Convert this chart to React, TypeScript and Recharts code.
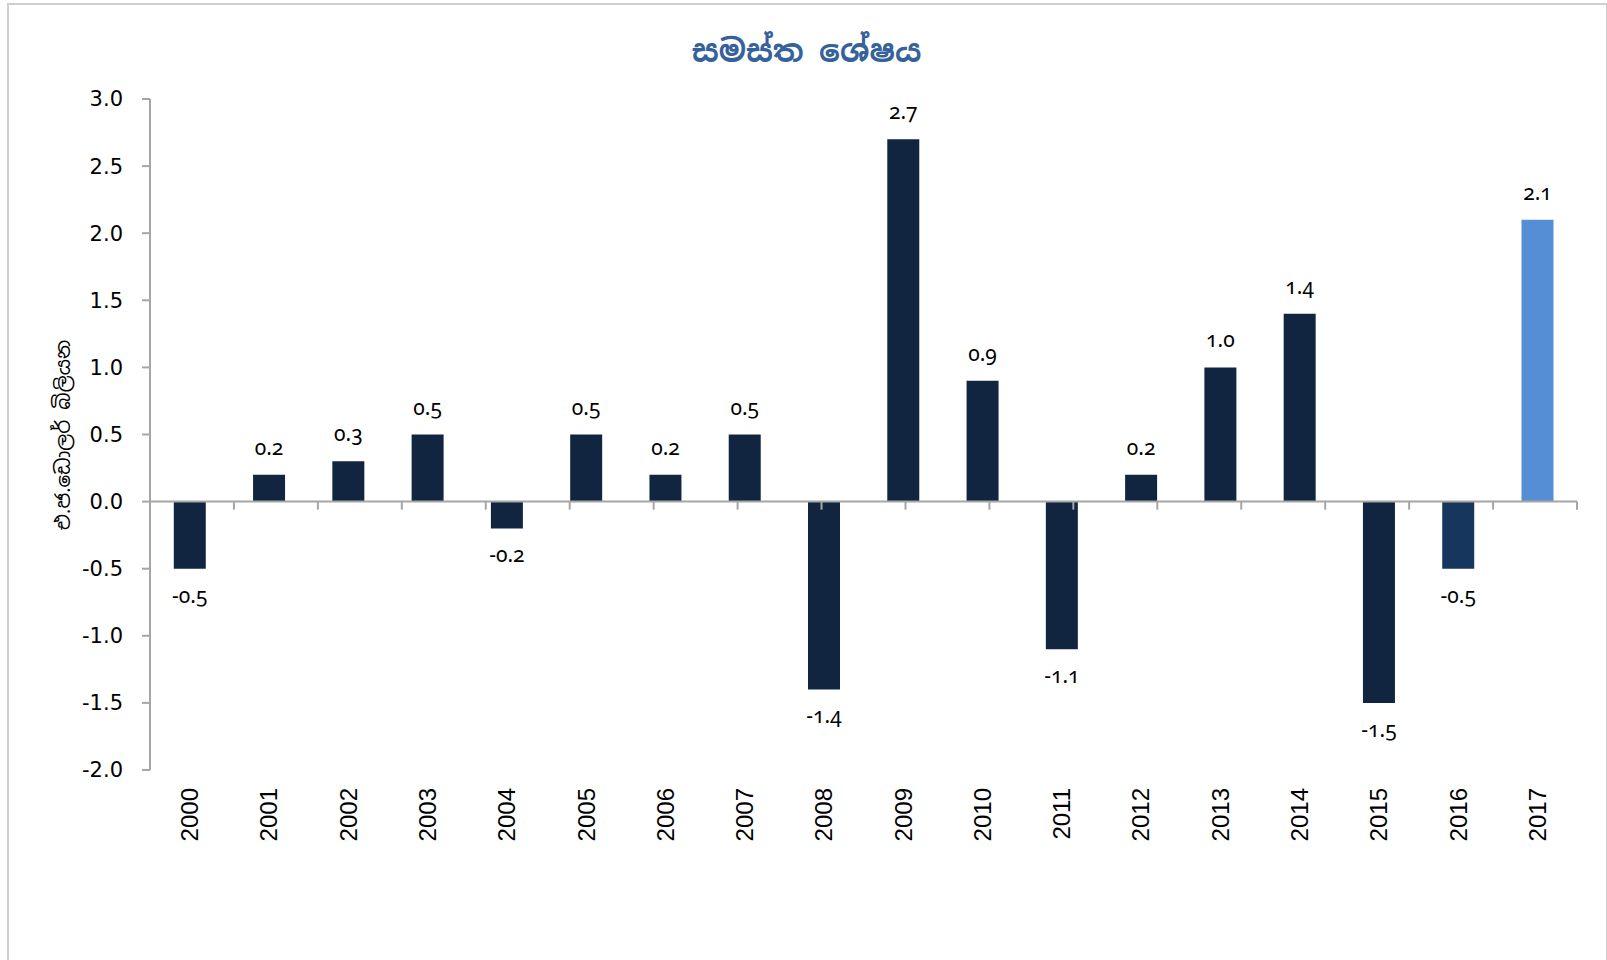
import React from "react";
import {
  BarChart,
  Bar,
  XAxis,
  YAxis,
  Cell,
  LabelList,
  ReferenceLine,
} from "recharts";

const years = [
  "2000", "2001", "2002", "2003", "2004", "2005", "2006", "2007", "2008",
  "2009", "2010", "2011", "2012", "2013", "2014", "2015", "2016", "2017",
];
const balance = [
  -0.5, 0.2, 0.3, 0.5, -0.2, 0.5, 0.2, 0.5, -1.4,
  2.7, 0.9, -1.1, 0.2, 1.0, 1.4, -1.5, -0.5, 2.1,
];
const yTicks = [-2.0, -1.5, -1.0, -0.5, 0.0, 0.5, 1.0, 1.5, 2.0, 2.5, 3.0];
const boundaries = Array.from({ length: years.length }, (_, i) => i + 1);

const TITLE = "සමස්ත ශේෂය";
const Y_LABEL = "එ.ජ.ඩොලර් බිලියන";

const NAVY = "#112540";
const BAR_COLORS: Record<string, string> = {
  "2016": "#17365D",
  "2017": "#558ED5",
};
const AXIS = "#A6A6A6";
const SINHALA = "'Noto Sans Sinhala', 'Iskoola Pota', 'Noto Sans', sans-serif";

const data = years.map((year, i) => ({ year, value: balance[i] }));

function YearTick(props: any) {
  const { x, y, payload } = props;
  const ty = y + 10;
  return (
    <text
      x={x}
      y={ty}
      transform={`rotate(-90 ${x} ${ty})`}
      textAnchor="end"
      dominantBaseline="central"
      fontFamily="'Liberation Sans', Arial, sans-serif"
      fontSize={24}
      fill="#000"
    >
      {payload.value}
    </text>
  );
}

function ValueLabel(props: any) {
  const { x, y, width, height, value } = props;
  const top = Math.min(y, y + height);
  const bottom = Math.max(y, y + height);
  const cx = x + width / 2;
  const ly = value < 0 ? bottom + 26 : top - 28;
  return (
    <text
      x={cx}
      y={ly}
      textAnchor="middle"
      dominantBaseline="central"
      fontFamily="'Noto Sans', sans-serif"
      fontSize={21}
      style={{ fontVariantNumeric: "oldstyle-nums" }}
      fill="#000"
    >
      {value.toFixed(1)}
    </text>
  );
}

export default function App() {
  return (
    <div
      style={{
        position: "absolute",
        left: 0,
        top: 0,
        width: 1607,
        height: 960,
        overflow: "hidden",
        background: "#fff",
      }}
    >
      <div
        style={{
          position: "absolute",
          left: 7,
          top: 3,
          width: 1597,
          height: 1000,
          border: "2px solid #CFCFCF",
        }}
      />
      <div
        style={{
          position: "absolute",
          left: 7,
          top: 30,
          width: 1599,
          textAlign: "center",
          fontFamily: SINHALA,
          fontWeight: "bold",
          fontSize: 31,
          lineHeight: "42px",
          color: "#36629B",
        }}
      >
        {TITLE}
      </div>
      <div
        style={{
          position: "absolute",
          left: 63,
          top: 435,
          transform: "translate(-50%, -50%) rotate(-90deg)",
          whiteSpace: "nowrap",
          fontFamily: SINHALA,
          fontSize: 20,
          color: "#000",
        }}
      >
        {Y_LABEL}
      </div>
      <div style={{ position: "absolute", left: 0, top: 0 }}>
        <BarChart
          width={1607}
          height={960}
          data={data}
          margin={{ top: 99, right: 30, left: 0, bottom: 0 }}
          barCategoryGap="30%"
        >
          <XAxis
            dataKey="year"
            height={190}
            axisLine={false}
            tickLine={false}
            interval={0}
            tick={<YearTick />}
          />
          <XAxis
            xAxisId="grid"
            type="number"
            domain={[0, years.length]}
            hide
          />
          <YAxis
            width={150}
            domain={[-2, 3]}
            ticks={yTicks}
            interval={0}
            tickFormatter={(v: number) => v.toFixed(1)}
            tick={{ fontSize: 21, fill: "#000", fontFamily: "'DejaVu Sans', sans-serif" }}
            axisLine={{ stroke: AXIS, strokeWidth: 2 }}
            tickLine={{ stroke: AXIS, strokeWidth: 2 }}
            tickSize={8}
            tickMargin={19}
          />
          <Bar dataKey="value" isAnimationActive={false}>
            {data.map((d) => (
              <Cell key={d.year} fill={BAR_COLORS[d.year] ?? NAVY} />
            ))}
            <LabelList dataKey="value" content={<ValueLabel />} />
          </Bar>
          <ReferenceLine y={0} stroke={AXIS} strokeWidth={2} />
          {boundaries.map((b) => (
            <ReferenceLine
              key={b}
              xAxisId="grid"
              segment={[
                { x: b, y: 0 },
                { x: b, y: -0.06 },
              ]}
              stroke={AXIS}
              strokeWidth={2}
            />
          ))}
        </BarChart>
      </div>
    </div>
  );
}
